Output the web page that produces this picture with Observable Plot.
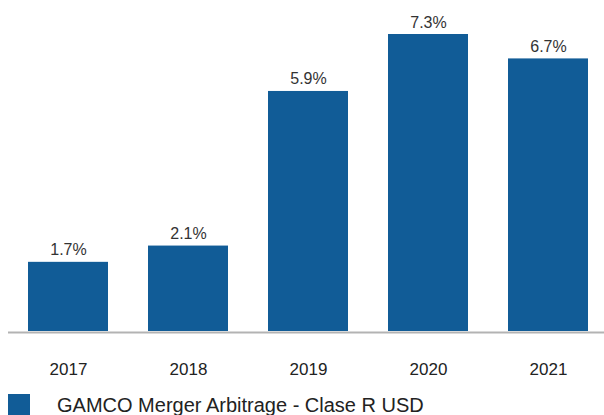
<!DOCTYPE html>
<html><head><meta charset="utf-8">
<script src="https://cdn.jsdelivr.net/npm/d3@7"></script>
<script src="https://cdn.jsdelivr.net/npm/@observablehq/plot@0.6"></script>
<style>
body{margin:0;background:#fff;font-family:"Liberation Sans",Arial,sans-serif;overflow:hidden}
#legend{display:flex;align-items:center;margin-left:8px;margin-top:6px;font-size:20px;color:#222;line-height:22px}
#legend .sw{width:22px;height:22px;background:#115c97;margin-right:27px}
</style></head>
<body>
<div id="chart"></div>
<div id="legend"><span class="sw"></span><span>GAMCO Merger Arbitrage - Clase R USD</span></div>
<script>
const years = ["2017","2018","2019","2020","2021"];
const values = [1.7, 2.1, 5.9, 7.3, 6.7];
const labels = ["1.7%","2.1%","5.9%","7.3%","6.7%"];
const data = years.map((y,i)=>({year:y, value:values[i], label:labels[i]}));
const plot = Plot.plot({
  width: 604, height: 388,
  marginLeft: 8, marginRight: 0, marginTop: 0, marginBottom: 57,
  style: {fontFamily: "Liberation Sans, Arial, sans-serif", background: "#fff"},
  x: {domain: years, range: [8, 608], paddingInner: 1/3, paddingOuter: 1/6, label: null},
  y: {domain: [0, 7.3], range: [331, 34], axis: null},
  marks: [
    Plot.barY(data, {x: "year", y: "value", fill: "#115c97"}),
    Plot.ruleY([0], {stroke: "#b3b3b3", strokeWidth: 2, dy: 1}),
    Plot.text(data, {x: "year", y: "value", text: "label", dy: -7, lineAnchor: "bottom", fontSize: 16, fill: "#333"}),
    Plot.axisX({y: 0, tickSize: 0, tickPadding: 31, fontSize: 17, color: "#222", label: null})
  ]
});
document.getElementById("chart").appendChild(plot);
</script>
</body></html>
